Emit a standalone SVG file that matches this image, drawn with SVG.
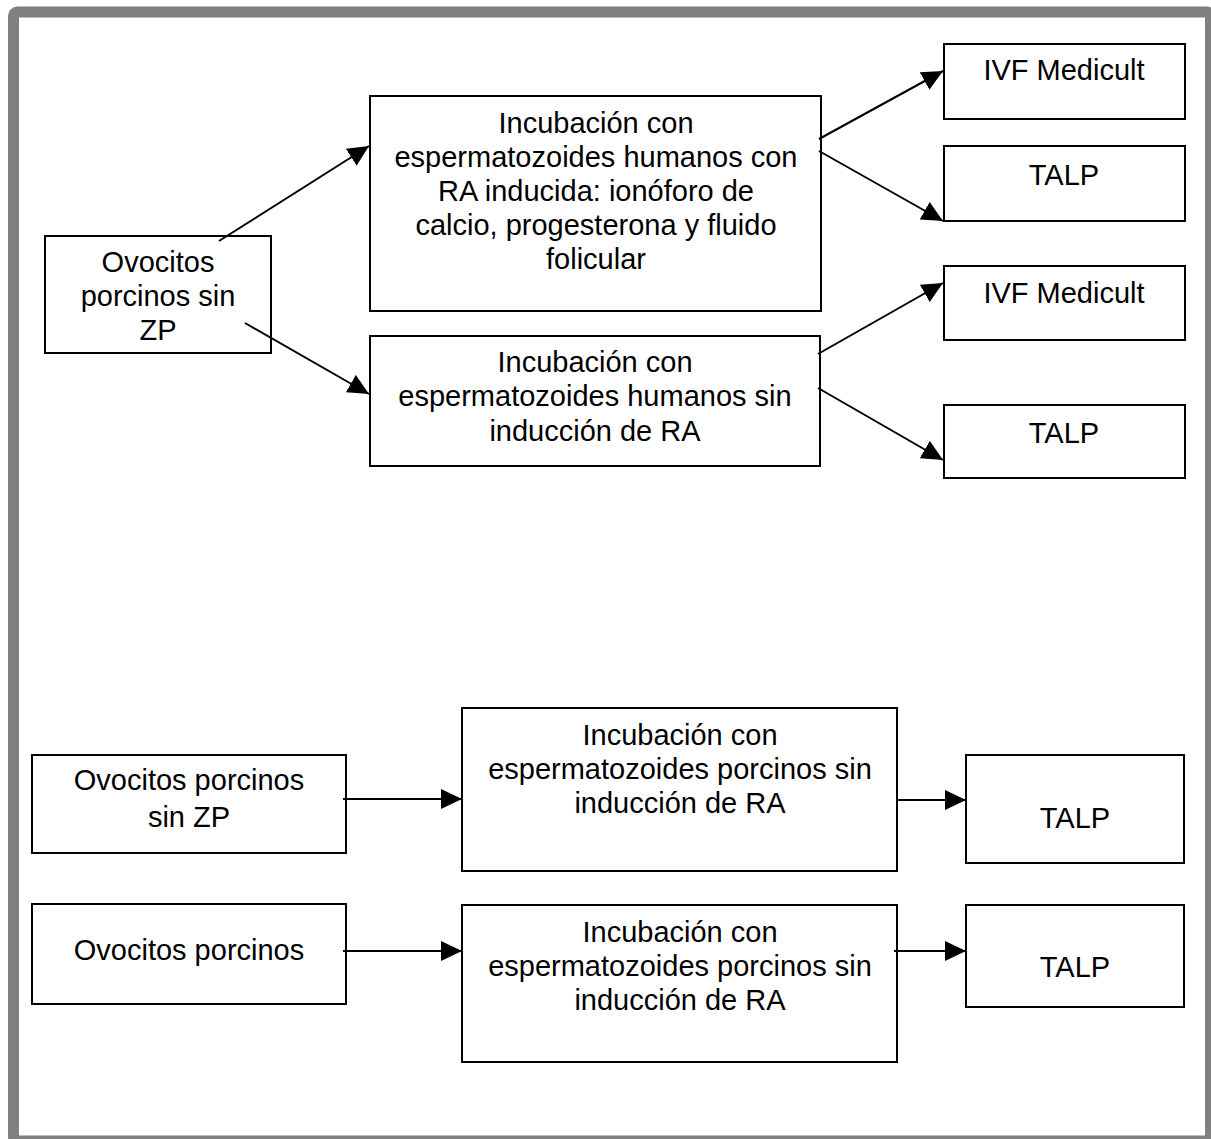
<svg xmlns="http://www.w3.org/2000/svg" width="1211" height="1139" viewBox="0 0 1211 1139">
<style>
.box{fill:#fff;stroke:#000;stroke-width:2}
.t{font-family:"Liberation Sans",Arial,sans-serif;font-size:29px;fill:#000;text-anchor:middle}
.c{stroke:#000;stroke-width:2;fill:none;marker-end:url(#ah)}
</style>
<defs>
<marker id="ah" markerUnits="userSpaceOnUse" viewBox="0 0 21 20" markerWidth="21" markerHeight="20" refX="21" refY="10" orient="auto">
<path d="M0,0 L21,10 L0,20 z" fill="#000"/>
</marker>
</defs>
<rect x="0" y="0" width="1211" height="1139" fill="#fff"/>
<rect x="13.5" y="12" width="1197" height="1129" rx="4" fill="#fff" stroke="#808080" stroke-width="11"/>

<g id="n1"><rect class="box" x="45" y="236" width="226" height="117"/>
<text class="t" x="158" y="272">Ovocitos</text><text class="t" x="158" y="306">porcinos sin</text><text class="t" x="158" y="340">ZP</text></g>

<g id="n2"><rect class="box" x="370" y="96" width="451" height="215"/>
<text class="t" x="596" y="133">Incubación con</text>
<text class="t" x="596" y="167">espermatozoides humanos con</text>
<text class="t" x="596" y="201">RA inducida: ionóforo de</text>
<text class="t" x="596" y="235">calcio, progesterona y fluido</text>
<text class="t" x="596" y="269">folicular</text></g>

<g id="n3"><rect class="box" x="370" y="336" width="450" height="130"/>
<text class="t" x="595" y="372">Incubación con</text>
<text class="t" x="595" y="406">espermatozoides humanos sin</text>
<text class="t" x="595" y="441">inducción de RA</text></g>

<g id="n4"><rect class="box" x="944" y="44" width="241" height="75"/><text class="t" x="1064" y="80">IVF Medicult</text></g>
<g id="n5"><rect class="box" x="944" y="146" width="241" height="75"/><text class="t" x="1064" y="185">TALP</text></g>
<g id="n6"><rect class="box" x="944" y="266" width="241" height="74"/><text class="t" x="1064" y="303">IVF Medicult</text></g>
<g id="n7"><rect class="box" x="944" y="405" width="241" height="73"/><text class="t" x="1064" y="443">TALP</text></g>

<g id="n8"><rect class="box" x="32" y="755" width="314" height="98"/>
<text class="t" x="189" y="790">Ovocitos porcinos</text><text class="t" x="189" y="827">sin ZP</text></g>
<g id="n9"><rect class="box" x="462" y="708" width="435" height="163"/>
<text class="t" x="680" y="745">Incubación con</text>
<text class="t" x="680" y="779">espermatozoides porcinos sin</text>
<text class="t" x="680" y="813">inducción de RA</text></g>
<g id="n10"><rect class="box" x="966" y="755" width="218" height="108"/><text class="t" x="1075" y="828">TALP</text></g>

<g id="n11"><rect class="box" x="32" y="904" width="314" height="100"/>
<text class="t" x="189" y="960">Ovocitos porcinos</text></g>
<g id="n12"><rect class="box" x="462" y="905" width="435" height="157"/>
<text class="t" x="680" y="942">Incubación con</text>
<text class="t" x="680" y="976">espermatozoides porcinos sin</text>
<text class="t" x="680" y="1010">inducción de RA</text></g>
<g id="n13"><rect class="box" x="966" y="905" width="218" height="102"/><text class="t" x="1075" y="977">TALP</text></g>

<g id="connectors">
<line class="c" x1="219" y1="241" x2="369" y2="146"/>
<line class="c" x1="245" y1="323" x2="369" y2="394"/>
<line class="c" x1="819" y1="139" x2="943" y2="71"/>
<line class="c" x1="819" y1="151" x2="943" y2="221"/>
<line class="c" x1="818" y1="354" x2="943" y2="283"/>
<line class="c" x1="818" y1="388" x2="943" y2="460"/>
<line class="c" x1="343" y1="799" x2="462" y2="799"/>
<line class="c" x1="897" y1="800" x2="966" y2="800"/>
<line class="c" x1="343" y1="951" x2="462" y2="951"/>
<line class="c" x1="894" y1="951" x2="966" y2="951"/>
</g>
</svg>
